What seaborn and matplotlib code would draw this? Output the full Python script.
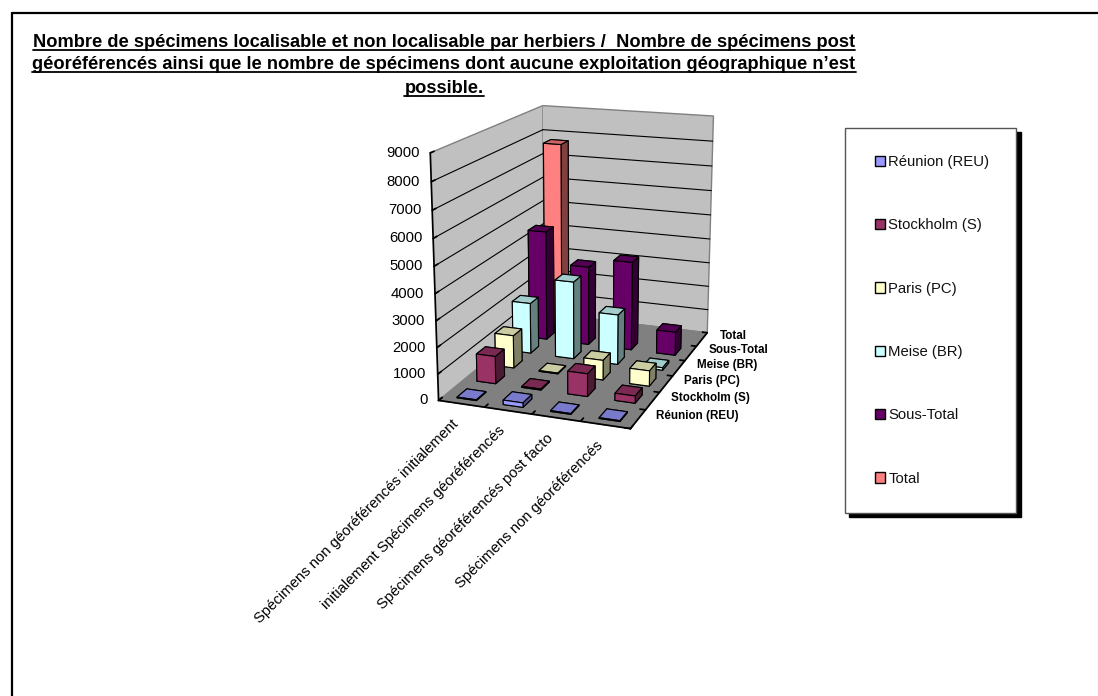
import matplotlib
matplotlib.use("Agg")
import matplotlib.pyplot as plt
from matplotlib.legend_handler import HandlerPatch
from matplotlib.lines import Line2D
from matplotlib.patches import Patch, Rectangle
from mpl_toolkits.mplot3d import proj3d
import numpy as np
import seaborn as sns

sns.set_theme(style="ticks")
plt.rcParams["font.family"] = ["Liberation Sans", "DejaVu Sans"]

# ── Data ─────────────────────────────────────────────────────────────────
categories = [
    "Spécimens non géoréférencés initialement",
    "initialement Spécimens géoréférencés",
    "Spécimens géoréférencés post facto",
    "Spécimens non géoréférencés",
]
series_names = ["Réunion (REU)", "Stockholm (S)", "Paris (PC)", "Meise (BR)", "Sous-Total", "Total"]
reunion = [30, 170, 30, 30]
stockholm = [1070, 40, 875, 275]
paris = [1300, 30, 775, 600]
meise = [2050, 3120, 2000, 100]
sous_total = [4500, 3230, 3610, 950]
total = [7700, None, None, None]
all_series = [reunion, stockholm, paris, meise, sous_total, total]
z_ticks = [0, 1000, 2000, 3000, 4000, 5000, 6000, 7000, 8000, 9000]

title_lines = [
    "Nombre de spécimens localisable et non localisable par herbiers /  Nombre de spécimens post",
    "géoréférencés ainsi que le nombre de spécimens dont aucune exploitation géographique n’est",
    "possible.",
]

palette = sns.color_palette(["#9999FF", "#993366", "#FFFFCC", "#CCFFFF", "#660066", "#FF8080"])
WIDTH, HEIGHT = 1098, 696
FS = 10.7
BAR_X = 0.42
BAR_Y = 0.48


def shade(color, k):
    return tuple(np.array(color) * k)


def square_handle(legend, orig_handle, xdescent, ydescent, width, height, fontsize):
    # square marker pushed to the right end of the handle box
    return Rectangle((width - height - xdescent, -ydescent), height, height)


fig = plt.figure(figsize=(WIDTH / 100, HEIGHT / 100), dpi=100, facecolor="white")

# square axes around the centre of the box
side = 620
cx, cy = 574, 260
ax = fig.add_axes(
    [(cx - side / 2) / WIDTH, 1 - (cy + side / 2) / HEIGHT, side / WIDTH, side / HEIGHT],
    projection="3d",
)
ax.patch.set_alpha(0)
ax.computed_zorder = False
ax.set_proj_type("persp", focal_length=0.38)
ax.view_init(elev=16, azim=-70)
ax.set_xlim(0, 4, view_margin=0)
ax.set_ylim(0, 6, view_margin=0)
ax.set_zlim(0, 9000, view_margin=0)
ax.set_box_aspect((200, 285, 250), zoom=0.645)
ax.grid(False)

# walls and floor
for axis, col in [(ax.xaxis, "#C0C0C0"), (ax.yaxis, "#C0C0C0"), (ax.zaxis, "#808080")]:
    axis.set_pane_color(col)
    axis.pane.set_edgecolor("#808080")
    axis.line.set_color("black")
    axis._axinfo["tick"]["inward_factor"] = 0
    axis._axinfo["tick"]["outward_factor"] = 0.35

ax.set_xticks(range(5))
ax.set_yticks(range(7))
ax.set_zticks(z_ticks)
ax.set_xticklabels([])
ax.set_yticklabels([])
ax.set_zticklabels([])
ax.zaxis.set_ticks_position("lower")
ax.tick_params(axis="both", colors="black", width=0.8)
ax.tick_params(axis="z", colors="black", width=0.8)

# horizontal lines on the two walls
for z in z_ticks[1:-1]:
    ax.plot([0, 0], [0, 6], [z, z], color="black", lw=0.8, zorder=1)
    ax.plot([0, 4], [6, 6], [z, z], color="black", lw=0.8, zorder=1)

# bars, back row first so the front ones cover them
order = 10
for j in range(len(all_series) - 1, -1, -1):
    for i, val in enumerate(all_series[j]):
        if val is None:
            continue
        c = palette[j]
        # faces: bottom, top, front, back, left, right
        faces = [c, shade(c, 0.8), c, c, c, shade(c, 0.5)]
        ax.bar3d(
            i + 0.5 - BAR_X / 2, j + 0.5 - BAR_Y / 2, 0, BAR_X, BAR_Y, val,
            color=faces, edgecolor="black", linewidth=0.8, shade=False, zorder=order,
        )
        order += 1


# text labels are placed on projected points, Text3D would drop the rotation
def label_at(x, y, z, text, offset, **kw):
    px, py, _ = proj3d.proj_transform(x, y, z, ax.get_proj())
    ax.annotate(text, (px, py), xytext=offset, textcoords="offset pixels", color="black", **kw)


for z in z_ticks:
    label_at(0, 0, z, str(z), (-11, 0), fontsize=FS, ha="right", va="center")
for i, name in enumerate(categories):
    label_at(i + 0.5, 0, 0, name, (-5, -18), fontsize=FS, rotation=45, ha="right", va="center",
             rotation_mode="anchor")
for j, name in enumerate(series_names):
    label_at(4, j + 0.5, 0, name, (18, 3), fontsize=8.4, fontweight="bold", ha="left", va="center")

# legend with a hard black shadow
handles = [Patch(facecolor=c, edgecolor="black", linewidth=1) for c in palette]
fig.legend(
    handles, series_names, loc="upper left", bbox_to_anchor=(845 / WIDTH, 1 - 128 / HEIGHT),
    bbox_transform=fig.transFigure, fontsize=FS, frameon=True, fancybox=False,
    edgecolor="#555555", facecolor="white", framealpha=1,
    shadow={"color": "black", "alpha": 1, "ox": 3, "oy": -3},
    labelspacing=3.32, borderpad=1.82, borderaxespad=0, handlelength=0.9,
    handleheight=0.7, handletextpad=0.2, labelcolor="#111111",
    handler_map={Patch: HandlerPatch(patch_func=square_handle)},
)

# title, underlined by hand since text has no underline
baselines = [47, 69, 93]
renderer = fig.canvas.get_renderer()
for line, y in zip(title_lines, baselines):
    t = fig.text(444 / WIDTH, 1 - y / HEIGHT, line, fontsize=13.15, fontweight="bold",
                 ha="center", va="baseline", color="black")
    box = t.get_window_extent(renderer)
    yu = 1 - (y + 3) / HEIGHT
    fig.add_artist(Line2D([box.x0 / WIDTH, box.x1 / WIDTH], [yu, yu], color="black", lw=1.3))

# outer frame, top and left only reach into the picture
fig.add_artist(Line2D([11.5 / WIDTH, 1], [1 - 13 / HEIGHT] * 2, color="black", lw=1.6))
fig.add_artist(Line2D([11.5 / WIDTH] * 2, [0, 1 - 13 / HEIGHT], color="black", lw=1.6))

fig.savefig("out.png", dpi=100)
